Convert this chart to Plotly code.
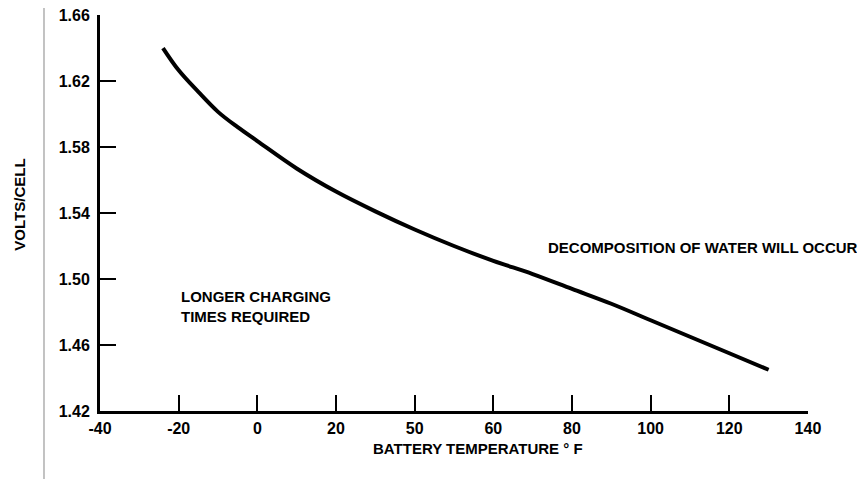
import plotly.graph_objects as go

# Data
temp_f = [-24, -20, -15, -10, -5, 0, 10, 20, 30, 40, 50, 60, 70, 80, 90, 100, 110, 120, 130]
volts_per_cell = [1.640, 1.6265, 1.6134, 1.6013, 1.592, 1.5836, 1.567, 1.553, 1.541, 1.530,
                  1.520, 1.511, 1.503, 1.494, 1.485, 1.475, 1.465, 1.455, 1.445]

x_tick_vals = [-40, -20, 0, 20, 40, 60, 80, 100, 120, 140]
x_tick_text = ["-40", "-20", "0", "20", "50", "60", "80", "100", "120", "140"]
y_tick_vals = [1.42, 1.46, 1.50, 1.54, 1.58, 1.62, 1.66]
y_tick_text = ["1.42", "1.46", "1.50", "1.54", "1.58", "1.62", "1.66"]

FONT = "Liberation Sans, Arial, sans-serif"

fig = go.Figure()
fig.add_trace(go.Scatter(
    x=temp_f, y=volts_per_cell, mode="lines",
    line=dict(color="black", width=4, shape="spline", smoothing=1.0),
    showlegend=False, hoverinfo="x+y",
))

fig.update_layout(
    width=857, height=471,
    margin=dict(l=92, r=57, t=7, b=67.5, autoexpand=False),
    paper_bgcolor="white", plot_bgcolor="white",
    font=dict(family=FONT, color="black"),
    showlegend=False,
    xaxis=dict(
        range=[-40.01, 140.01], tickvals=x_tick_vals, ticktext=x_tick_text,
        ticks="inside", ticklen=16, tickwidth=2, tickcolor="black",
        showline=True, linecolor="black", linewidth=2.5,
        showgrid=False, zeroline=False, automargin=False,
        tickfont=dict(family=FONT, size=16, color="black", weight="bold"),
        ticklabelstandoff=1, ticklabeloverflow="allow",
    ),
    yaxis=dict(
        range=[1.41999, 1.66002], tickvals=y_tick_vals, ticktext=y_tick_text,
        ticks="inside", ticklen=16, tickwidth=2, tickcolor="black",
        showline=True, linecolor="black", linewidth=3,
        showgrid=False, zeroline=False, automargin=False,
        tickfont=dict(family=FONT, size=16, color="black", weight="bold"),
        ticklabelstandoff=4, ticklabeloverflow="allow",
    ),
    shapes=[dict(type="line", xref="paper", yref="paper",
                 x0=-0.0791, x1=-0.0791, y0=-0.18, y1=1.05,
                 line=dict(color="#9a9a9a", width=1.2))],
    annotations=[
        dict(text="VOLTS/CELL", xref="paper", yref="paper", x=-0.113, y=0.521,
             textangle=-90, showarrow=False, xanchor="center", yanchor="middle",
             font=dict(family=FONT, size=15, color="black", weight="bold")),
        dict(text="BATTERY TEMPERATURE ° F", xref="x", yref="paper", x=56, y=-0.0946,
             showarrow=False, xanchor="center", yanchor="middle",
             font=dict(family=FONT, size=15, color="black", weight="bold")),
        dict(text="LONGER CHARGING<br>TIMES REQUIRED", xref="x", yref="y",
             x=-20, y=1.4834, showarrow=False, xanchor="left", yanchor="middle",
             align="left",
             font=dict(family=FONT, size=15, color="black", weight="bold")),
        dict(text="DECOMPOSITION OF WATER WILL OCCUR", xref="x", yref="y",
             x=73.4, y=1.519, showarrow=False, xanchor="left", yanchor="middle",
             font=dict(family=FONT, size=15, color="black", weight="bold")),
    ],
)

fig.write_html("out.html")
